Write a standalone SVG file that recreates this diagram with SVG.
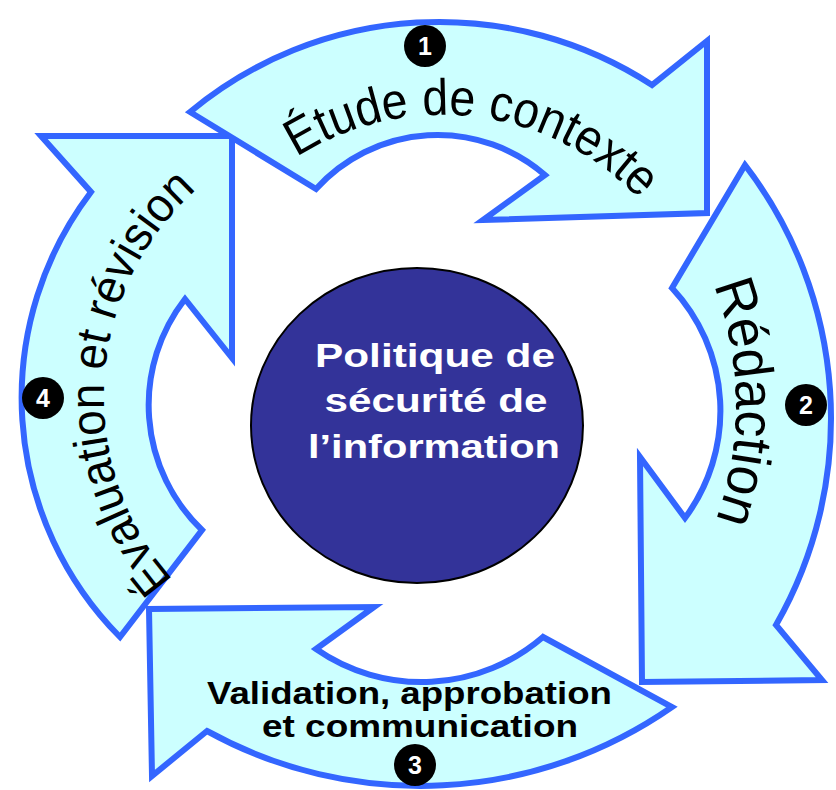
<svg xmlns="http://www.w3.org/2000/svg" width="836" height="790" viewBox="0 0 836 790">
<defs>
<style>
.arrow{fill:#CCFFFF;stroke:#3366FF;stroke-width:6;stroke-linejoin:miter}
.lbl{font-family:"Liberation Sans",Arial,sans-serif;fill:#000}
.num{fill:#000}
.numt{font-family:"Liberation Sans",Arial,sans-serif;font-weight:bold;font-size:25px;fill:#fff;text-anchor:middle}
.ctr{font-family:"Liberation Sans",Arial,sans-serif;font-weight:bold;font-size:33px;fill:#fff;text-anchor:middle}
.bt{font-family:"Liberation Sans",Arial,sans-serif;font-weight:bold;font-size:32px;fill:#000;text-anchor:middle}
</style>
<path id="p1" d="M 296.6,157.1 A 272 272 0 0 1 640,200"/>
<path id="p2" d="M 713.6,285 A 335 335 0 0 1 715,522"/>
<path id="p4" d="M 173.3,580 A 277 277 0 0 1 199.5,187"/>
</defs>
<rect width="836" height="790" fill="#fff"/>
<g id="connectors"/>
<g id="step4">
<path class="arrow" d="M 120,637 A 340 340 0 0 1 91,192 L 41,136 L 232,136 L 232,358 L 185,299 A 173 173 0 0 0 202,530 Z"/>
<text class="lbl" font-size="48"><textPath href="#p4" textLength="434" lengthAdjust="spacingAndGlyphs">Évaluation et révision</textPath></text>
<circle class="num" cx="43" cy="398" r="21"/>
<text class="numt" x="43" y="407">4</text>
</g>
<g id="step1">
<path class="arrow" d="M 190,112 A 390 390 0 0 1 652,85 L 707,41 L 707,213 L 483,220 L 545,175 A 164 164 0 0 0 316,189 Z"/>
<text class="lbl" font-size="51"><textPath href="#p1" textLength="374" lengthAdjust="spacingAndGlyphs">Étude de contexte</textPath></text>
<circle class="num" cx="425" cy="46" r="21"/>
<text class="numt" x="425" y="55">1</text>
</g>
<g id="step2">
<path class="arrow" d="M 745,165 A 416 416 0 0 1 776,625 L 822,680 L 642,682 L 640,457 L 685,518 A 180 180 0 0 0 672,288 Z"/>
<text class="lbl" font-size="55"><textPath href="#p2" textLength="240" lengthAdjust="spacingAndGlyphs">Rédaction</textPath></text>
<circle class="num" cx="806" cy="405" r="21"/>
<text class="numt" x="806" y="414">2</text>
</g>
<g id="step3">
<path class="arrow" d="M 672,707 A 441 441 0 0 1 207,731 L 152,776 L 149,609 L 374,607 L 316,649 A 185.5 185.5 0 0 0 543,637 Z"/>
<text class="bt" x="409.5" y="704" textLength="405" lengthAdjust="spacingAndGlyphs">Validation, approbation</text>
<text class="bt" x="420" y="737" textLength="316" lengthAdjust="spacingAndGlyphs">et communication</text>
<circle class="num" cx="415" cy="765" r="21"/>
<text class="numt" x="415" y="774">3</text>
</g>
<g id="center">
<ellipse cx="417" cy="425.5" rx="166" ry="157.5" fill="#333399" stroke="#000" stroke-width="2"/>
<text class="ctr" x="435" y="367" textLength="240" lengthAdjust="spacingAndGlyphs">Politique de</text>
<text class="ctr" x="436" y="412" textLength="223" lengthAdjust="spacingAndGlyphs">sécurité de</text>
<text class="ctr" x="434" y="458" textLength="252" lengthAdjust="spacingAndGlyphs">l’information</text>
</g>
</svg>
